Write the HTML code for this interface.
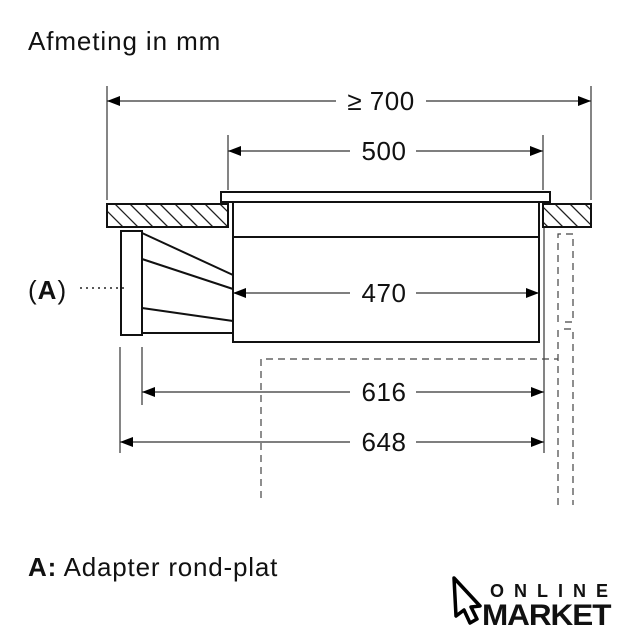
<!DOCTYPE html>
<html><head><meta charset="utf-8"><style>
html,body{margin:0;padding:0;background:#fff;}
svg{display:block;}
text{font-family:"Liberation Sans",Arial,sans-serif;fill:#111;}
</style></head><body>
<svg width="640" height="640" viewBox="0 0 640 640" xmlns="http://www.w3.org/2000/svg">
<defs>
<marker id="ar" viewBox="0 0 13 10" refX="13" refY="5" markerWidth="13" markerHeight="10" markerUnits="userSpaceOnUse" orient="auto-start-reverse"><path d="M0,0 L13,5 L0,10 z" fill="#000"/></marker>
<clipPath id="h1"><rect x="107" y="204" width="121" height="23"/></clipPath>
<clipPath id="h2"><rect x="543" y="204" width="48" height="23"/></clipPath>
</defs>
<rect width="640" height="640" fill="#fff"/>
<text x="28" y="50" font-size="26" letter-spacing="0.9">Afmeting in mm</text>

<g stroke="#333" stroke-width="1.2" fill="none">
<line x1="107" y1="86" x2="107" y2="200"/>
<line x1="591" y1="86" x2="591" y2="200"/>
<line x1="228" y1="135" x2="228" y2="190"/>
<line x1="543" y1="135" x2="543" y2="190"/>
<line x1="544" y1="227" x2="544" y2="453"/>
<line x1="120" y1="347" x2="120" y2="453"/>
<line x1="142" y1="347" x2="142" y2="405"/>
</g>

<g stroke="#333" stroke-width="1.2" fill="none">
<line x1="107" y1="101" x2="591" y2="101" marker-start="url(#ar)" marker-end="url(#ar)"/>
<line x1="228" y1="151" x2="543" y2="151" marker-start="url(#ar)" marker-end="url(#ar)"/>
<line x1="233" y1="293" x2="539" y2="293" marker-start="url(#ar)" marker-end="url(#ar)"/>
<line x1="142" y1="392" x2="544" y2="392" marker-start="url(#ar)" marker-end="url(#ar)"/>
<line x1="120" y1="442" x2="544" y2="442" marker-start="url(#ar)" marker-end="url(#ar)"/>
</g>
<g fill="#fff">
<rect x="336" y="88" width="90" height="26"/>
<rect x="350" y="138" width="66" height="26"/>
<rect x="350" y="280" width="66" height="26"/>
<rect x="350" y="379" width="66" height="26"/>
<rect x="350" y="429" width="66" height="26"/>
</g>
<g font-size="26" text-anchor="middle" letter-spacing="0.5">
<text x="381" y="110">≥ 700</text>
<text x="384" y="160">500</text>
<text x="384" y="302">470</text>
<text x="384" y="401">616</text>
<text x="384" y="451">648</text>
</g>

<g stroke="#222" stroke-width="1.3">
<g clip-path="url(#h1)">
<path d="M100,204 l23,23 M115,204 l23,23 M130,204 l23,23 M145,204 l23,23 M160,204 l23,23 M175,204 l23,23 M190,204 l23,23 M205,204 l23,23 M220,204 l23,23 M85,204 l23,23"/>
</g>
<g clip-path="url(#h2)">
<path d="M540,204 l23,23 M555,204 l23,23 M570,204 l23,23 M585,204 l23,23 M525,204 l23,23"/>
</g>
</g>
<g stroke="#111" stroke-width="2" fill="none">
<rect x="107" y="204" width="121" height="23"/>
<rect x="543" y="204" width="48" height="23"/>
<rect x="221" y="192" width="329" height="10"/>
<rect x="233" y="202" width="306" height="140"/>
<line x1="233" y1="237" x2="539" y2="237"/>
<rect x="121" y="231" width="21" height="104"/>
<line x1="142" y1="233" x2="233" y2="275"/>
<line x1="142" y1="259" x2="233" y2="289"/>
<line x1="142" y1="308" x2="233" y2="321"/>
<line x1="142" y1="333" x2="233" y2="333"/>
</g>

<g stroke="#444" stroke-width="1.2" fill="none" stroke-dasharray="7,5">
<path d="M558,322 L558,234 L573,234 L573,322 L564,322"/>
<line x1="558" y1="330" x2="558" y2="505"/>
<path d="M564,329 L573,329 L573,505"/>
<path d="M261,498 L261,359 L558,359"/>
</g>
<line x1="80" y1="288" x2="125" y2="288" stroke="#222" stroke-width="1.5" stroke-dasharray="2,4"/>
<text x="28" y="299" font-size="26" letter-spacing="1">(<tspan font-weight="bold">A</tspan>)</text>

<text x="28" y="576" font-size="26" letter-spacing="0.8"><tspan font-weight="bold">A:</tspan> Adapter rond-plat</text>

<path d="M454,578 L480,606 L471,607 L477,619 L470,623 L464,610 L456,616 Z" fill="none" stroke="#000" stroke-width="3.5" stroke-linejoin="round"/>
<text x="490" y="597" font-size="18" letter-spacing="10" font-weight="bold">ONLINE</text>
<text x="482" y="625" font-size="30" font-weight="bold" letter-spacing="-1" transform="translate(482 625) scale(1.05 1) translate(-482 -625)">MARKET</text>
</svg>
</body></html>
